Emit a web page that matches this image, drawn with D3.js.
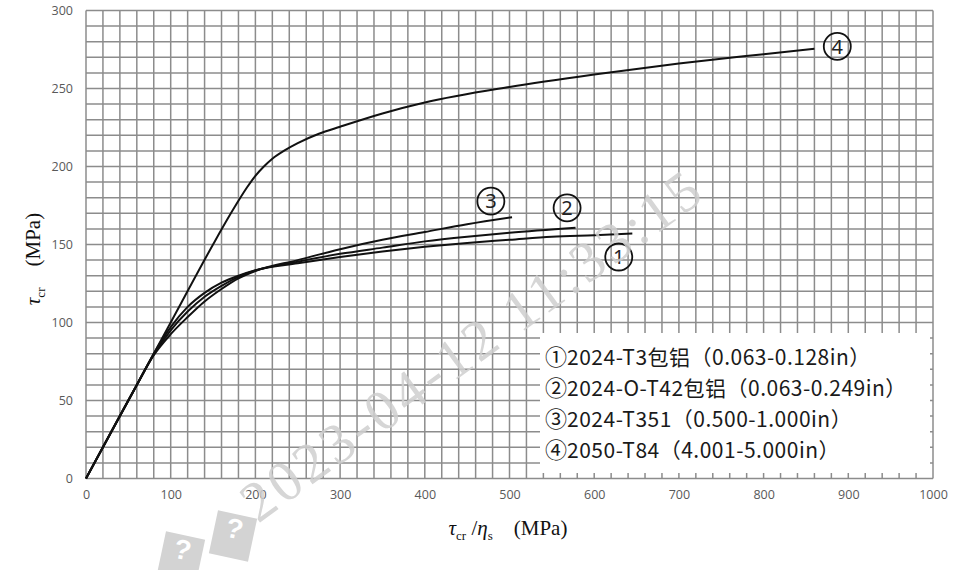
<!DOCTYPE html>
<html><head><meta charset="utf-8">
<script src="https://cdn.jsdelivr.net/npm/d3@7"></script>
<style>body{margin:0;background:#fff}svg{display:block}</style>
</head><body>
<svg id="chart" width="979" height="570"></svg>
<script>
// ---- data ----
const xTicks = [0,100,200,300,400,500,600,700,800,900,1000];
const yTicks = [0,50,100,150,200,250,300];
const seriesMarks = ["①","②","③","④"];
const seriesNames = ["2024-T3包铝（0.063-0.128in）","2024-O-T42包铝（0.063-0.249in）","2024-T351（0.500-1.000in）","2050-T84（4.001-5.000in）"];
const curve1 = [[0,0],[60,60],[80,80],[100,97],[120,110],[140,119],[160,125.5],[180,130],[200,133.5],[250,138],[300,142],[350,145.5],[400,148.5],[450,151],[500,153],[550,155],[600,156],[645,157]];
const curve2 = [[0,0],[60,60],[80,79.5],[100,95],[120,107],[140,116.5],[160,123.5],[180,129.3],[200,133.3],[250,139],[300,144],[350,148],[400,152],[450,155],[500,157.5],[578,160.7]];
const curve3 = [[0,0],[60,60],[80,79],[100,92.5],[120,103.5],[140,113.5],[160,121.5],[180,128.3],[200,133],[250,140],[300,147],[350,153],[400,158],[450,163],[503,167.5]];
const curve4 = [[0,0],[100,100],[150,150],[170,169],[180,178],[190,186.5],[200,194],[210,200],[220,205],[235,210.5],[250,215],[275,221],[300,225.5],[350,234],[400,241],[500,251],[600,259],[700,266],[800,272],[860,275.5]];
const labelNumbers = ["1","2","3","4"];
const labelPos = [[629,142],[568,173.5],[478,177.8],[887,277]];
const watermark = "2023-04-12 11:33:15";

// ---- layout ----
const svg = d3.select("#chart");
const L=86, R=933, T=10.5, B=478.5;
const x = d3.scaleLinear().domain([0,1000]).range([L,R]);
const y = d3.scaleLinear().domain([0,300]).range([B,T]);
const gridCol = "#8c8c8c";

// grid
const g = svg.append("g");
g.selectAll(".vx").data(d3.range(0,1001,20)).join("line")
  .attr("x1",d=>x(d)).attr("x2",d=>x(d)).attr("y1",T).attr("y2",B)
  .attr("stroke",gridCol).attr("stroke-width",1.5);
g.selectAll(".hy").data(d3.range(0,301,10)).join("line")
  .attr("y1",d=>y(d)).attr("y2",d=>y(d)).attr("x1",L).attr("x2",R)
  .attr("stroke",gridCol).attr("stroke-width",1.5);

// axes labels via d3 axis
const xAxis = svg.append("g").attr("transform",`translate(0,${B})`)
  .call(d3.axisBottom(x).tickValues(xTicks).tickFormat(d3.format("d")).tickSize(0).tickPadding(12));
const yAxis = svg.append("g").attr("transform",`translate(${L},0)`)
  .call(d3.axisLeft(y).tickValues(yTicks).tickFormat(d3.format("d")).tickSize(0).tickPadding(13));
[xAxis,yAxis].forEach(a=>{
  a.select(".domain").remove();
  a.selectAll("text").attr("fill","#595959").style("font-family","'Open Sans', 'Noto Sans', sans-serif").style("font-size","12.5px");
});

// curves
const line = d3.line().x(d=>x(d[0])).y(d=>y(d[1])).curve(d3.curveMonotoneX);
[curve1,curve2,curve3,curve4].forEach(c=>{
  svg.append("path").attr("d",line(c)).attr("fill","none").attr("stroke","#111").attr("stroke-width",2);
});

// curve labels (circled numbers)
labelPos.forEach((p,i)=>{
  svg.append("circle").attr("cx",x(p[0])).attr("cy",y(p[1])).attr("r",13.5)
    .attr("fill","none").attr("stroke","#111").attr("stroke-width",1.8);
  svg.append("text").attr("x",x(p[0])).attr("y",y(p[1])).attr("dy","0.36em")
    .attr("text-anchor","middle").attr("fill","#222")
    .style("font-family","'Noto Sans', sans-serif").style("font-size","20px").text(labelNumbers[i]);
});

// legend box
svg.append("rect").attr("x",540).attr("y",333).attr("width",390).attr("height",140).attr("fill","#fff");
seriesNames.forEach((s,i)=>{
  const t = svg.append("text").attr("x",545).attr("y",364.5+i*31.3)
    .attr("fill","#1a1a1a").style("font-family","'Noto Sans CJK SC', sans-serif").style("font-size","21px");
  t.append("tspan").style("font-size","22px").text(seriesMarks[i]);
  t.append("tspan").style("letter-spacing","0.5px").text(s);
});

// axis titles
const xt = svg.append("text").attr("x",508).attr("y",535).attr("text-anchor","middle")
  .style("font-family","'Liberation Serif', serif").style("font-size","21px").attr("fill","#111");
xt.append("tspan").style("font-style","italic").text("τ");
xt.append("tspan").attr("dy",5).style("font-size","13px").text("cr");
xt.append("tspan").attr("dy",-5).text(" /");
xt.append("tspan").style("font-style","italic").text("η");
xt.append("tspan").attr("dy",5).style("font-size","13px").text("s");
xt.append("tspan").attr("dy",-5).text("\u2003(MPa)");

const yt = svg.append("text").attr("transform","translate(40,259) rotate(-90)").attr("text-anchor","middle")
  .style("font-family","'Liberation Serif', serif").style("font-size","21px").attr("fill","#111");
yt.append("tspan").style("font-style","italic").text("τ");
yt.append("tspan").attr("dy",5).style("font-size","13px").text("cr");
yt.append("tspan").attr("dy",-5).text("\u2003(MPa)");

// watermark
svg.append("text").attr("transform","translate(258,524) rotate(-36)")
  .style("font-family","'Liberation Serif', serif").style("font-size","57px").style("letter-spacing","4px")
  .attr("fill","#cfcfcf").attr("opacity",0.85)
  .text(watermark);

// placeholder icons
[[233,536,12],[181,557,12]].forEach(p=>{
  const ic = svg.append("g").attr("transform",`translate(${p[0]},${p[1]}) rotate(${p[2]})`);
  ic.append("rect").attr("x",-20).attr("y",-22).attr("width",40).attr("height",44).attr("fill","#d3d3d3");
  ic.append("text").attr("text-anchor","middle").attr("y",2).attr("fill","#fff")
    .style("font-family","'Liberation Sans', sans-serif").style("font-weight","bold").style("font-size","28px").text("?");
});
</script>
</body></html>
